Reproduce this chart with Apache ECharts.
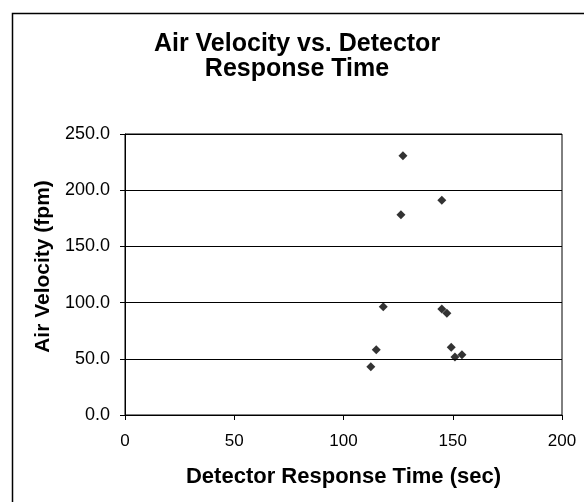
<!DOCTYPE html>
<html lang="en">
<head>
    <meta charset="UTF-8">
    <title>Air Velocity vs. Detector Response Time</title>
    <script src="https://cdn.jsdelivr.net/npm/echarts@6/dist/echarts.min.js"></script>
    <style>
        html, body { margin: 0; padding: 0; background: #fff; }
        #chart { width: 584px; height: 502px; }
    </style>
</head>
<body>
<div id="chart"></div>
<script>
    // values
    var responseTime = [127.2, 145.0, 126.3, 118.2, 145.0, 147.3, 115.0, 149.3, 151.0, 154.2, 112.5];
    var airVelocity  = [230.7, 191.0, 178.2, 96.4, 94.3, 90.5, 58.1, 60.2, 51.6, 53.6, 43.0];

    var points = responseTime.map(function (t, i) { return [t, airVelocity[i]]; });
    var font = 'Liberation Sans, Arial, sans-serif';

    var myChart = echarts.init(document.getElementById('chart'));
    myChart.setOption({
        animation: false,
        backgroundColor: '#fff',
        title: {
            text: 'Air Velocity vs. Detector\nResponse Time',
            left: 297,
            top: 32,
            padding: 0,
            textAlign: 'center',
            textStyle: {
                fontFamily: font,
                fontSize: 25,
                fontWeight: 'bold',
                color: '#000',
                lineHeight: 25
            }
        },
        graphic: [{
            type: 'rect',
            left: 10,
            top: 11,
            shape: { width: 620, height: 560 },
            style: { fill: 'none', stroke: '#000', lineWidth: 1.5 },
            silent: true
        }],
        grid: {
            left: 125,
            right: 22,
            top: 134,
            bottom: 87,
            show: true,
            borderColor: '#000',
            borderWidth: 1
        },
        xAxis: {
            type: 'value',
            min: 0,
            max: 200,
            interval: 50,
            name: 'Detector Response Time (sec)',
            nameLocation: 'middle',
            nameGap: 51,
            nameTextStyle: {
                fontFamily: font,
                fontSize: 22,
                fontWeight: 'bold',
                color: '#000'
            },
            axisLine: { lineStyle: { color: '#000', width: 1 } },
            axisTick: { show: true, inside: false, length: 5, lineStyle: { color: '#000' } },
            axisLabel: { fontFamily: font, fontSize: 17, color: '#000', margin: 18 },
            splitLine: { show: false }
        },
        yAxis: {
            type: 'value',
            min: 0,
            max: 250,
            interval: 50,
            name: 'Air Velocity (fpm)',
            nameLocation: 'middle',
            nameGap: 70,
            nameTextStyle: {
                fontFamily: font,
                fontSize: 21,
                fontWeight: 'bold',
                color: '#000',
                padding: [0, 0, 0, 16]
            },
            axisLine: { show: true, lineStyle: { color: '#000', width: 1 } },
            axisTick: { show: true, inside: false, length: 5, lineStyle: { color: '#000' } },
            axisLabel: {
                fontFamily: font,
                fontSize: 18,
                color: '#000',
                margin: 15,
                formatter: function (v) { return v.toFixed(1); }
            },
            splitLine: { show: true, lineStyle: { color: '#000', width: 1 } }
        },
        series: [{
            type: 'scatter',
            data: points,
            symbol: 'diamond',
            symbolSize: 9,
            itemStyle: { color: '#000' }
        }]
    });
</script>
</body>
</html>
